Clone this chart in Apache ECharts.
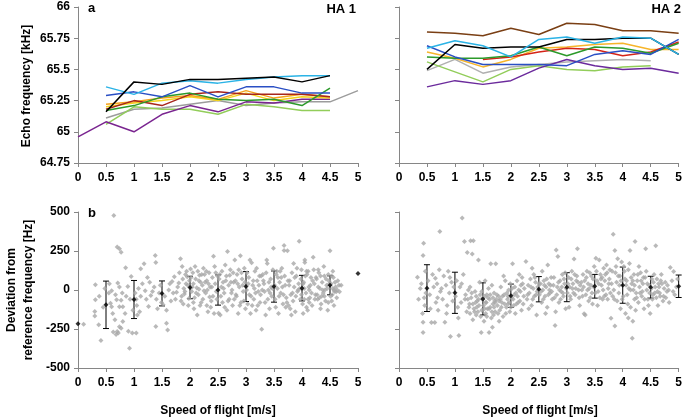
<!DOCTYPE html>
<html>
<head>
<meta charset="utf-8">
<script src="https://cdn.jsdelivr.net/npm/echarts@6/dist/echarts.min.js"></script>
<style>
  html, body { margin: 0; background: #fff; }
  #chart { width: 685px; height: 420px; }
</style>
</head>
<body>
<div id="chart"></div>
<script>
// speeds shared by all panels (m/s)
const speeds = [0, 0.5, 1, 1.5, 2, 2.5, 3, 3.5, 4, 4.5, 5]

// panel a, HA 1 – echo frequency per bat (kHz)
const ha1Black = [null, 65.16, 65.40, 65.38, 65.42, 65.42, 65.43, 65.44, 65.40, 65.45, null]
const ha1Cyan = [null, 65.36, 65.30, 65.39, 65.41, 65.39, 65.42, 65.44, 65.45, 65.45, null]
const ha1Blue = [null, 65.29, 65.32, 65.28, 65.37, 65.28, 65.36, 65.36, 65.31, 65.31, null]
const ha1DarkRed = [null, 65.18, 65.25, 65.21, 65.30, 65.32, 65.30, 65.30, 65.30, 65.28, null]
const ha1Green = [null, 65.17, 65.21, 65.28, 65.31, 65.26, 65.25, 65.26, 65.21, 65.35, null]
const ha1Orange = [null, 65.22, 65.24, 65.27, 65.29, 65.26, 65.33, 65.27, 65.30, 65.28, null]
const ha1Yellow = [null, 65.20, 65.23, 65.25, 65.28, 65.25, 65.31, 65.25, 65.28, 65.27, null]
const ha1Gray = [null, 65.11, 65.18, 65.19, 65.22, 65.25, 65.21, 65.23, 65.24, 65.24, 65.33]
const ha1Purple = [64.96, 65.08, 65.00, 65.14, 65.21, 65.16, 65.24, 65.23, 65.26, 65.26, null]
const ha1LightGreen = [null, 65.06, 65.20, 65.18, 65.18, 65.14, 65.22, 65.20, 65.17, 65.17, null]

// panel a, HA 2
const ha2Brown = [null, 65.80, 65.79, 65.77, 65.83, 65.78, 65.87, 65.86, 65.81, 65.81, 65.79]
const ha2Cyan = [null, 65.67, 65.73, 65.69, 65.60, 65.74, 65.76, 65.71, 65.76, 65.75, 65.62]
const ha2Black = [null, 65.50, 65.70, 65.67, 65.68, 65.68, 65.74, 65.74, 65.75, 65.75, 65.62]
const ha2Blue = [null, 65.69, 65.60, 65.54, 65.54, 65.54, 65.53, 65.62, 65.65, 65.62, 65.74]
const ha2Orange = [null, 65.64, 65.59, 65.52, 65.58, 65.67, 65.68, 65.70, 65.71, 65.66, 65.66]
const ha2Green = [null, 65.60, 65.59, 65.59, 65.61, 65.68, 65.61, 65.68, 65.67, 65.63, 65.71]
const ha2Red = [null, null, null, 65.58, 65.60, 65.64, 65.67, 65.66, 65.61, 65.64, 65.72]
const ha2Gray = [null, 65.49, 65.58, 65.47, 65.52, 65.54, 65.56, 65.57, 65.58, 65.57, null]
const ha2LightGreen = [null, 65.56, 65.48, 65.40, 65.50, 65.53, 65.50, 65.49, 65.52, 65.53, null]
const ha2Purple = [null, 65.36, 65.41, 65.38, 65.41, 65.51, 65.58, 65.53, 65.50, 65.51, 65.47]

// panel b – mean deviation and error (Hz)
const meanHA1 = [-216, -95, -61, -22, 16, 0, 22, 22, 12, 30, 106]
const errHA1 = [0, 152, 122, 80, 72, 97, 96, 100, 82, 61, 0]
const meanHA2 = [null, 12, -18, -57, -37, 5, 18, 24, 31, 18, 24]
const errHA2 = [0, 150, 132, 103, 75, 81, 93, 76, 116, 70, 72]

// panel b – single calls [speed, deviation]
const scatterHA1 = [
  [0.1,-219],[0.31,33],[0.31,-63],[0.3,-138],[0.3,-166],[0.37,-223],[0.41,-324],[0.38,-40],[0.45,-110],[0.48,10],
  [0.55,-20],[0.56,40],[0.58,-85],[0.6,-107],[0.62,-150],[0.63,-270],[0.66,-190],[0.68,-285],[0.7,-266],[0.72,-275],
  [0.74,-235],[0.77,-245],[0.8,-202],[0.71,45],[0.74,20],[0.67,-30],[0.69,-63],[0.77,-65],[0.8,-107],[0.84,-150],
  [0.86,-40],[0.74,-107],[0.89,22],[0.95,86],[0.64,478],[0.7,275],[0.74,264],[0.77,242],[0.85,142],[0.92,-373],
  [0.9,-265],[0.97,-275],[0.93,-60],[0.98,-130],[0.79,-20],[0.6,-5],
  [1.02,-20],[1.04,-60],[1.05,-100],[1.06,-160],[1.04,-276],[1.1,-140],[1.12,-40],[1.15,40],[1.18,168],[1.12,136],
  [1.2,-5],[1.22,-60],[1.24,80],[1.08,10],
  [1.26,-105],[1.28,50],[1.3,-35],[1.33,-10],[1.36,20],[1.38,221],[1.39,176],[1.39,-234],[1.4,-60],[1.42,-120],
  [1.45,-20],[1.47,30],[1.49,-80],
  [1.52,-95],[1.55,-40],[1.58,-213],[1.6,-256],[1.62,0],[1.64,40],[1.66,-70],[1.68,55],[1.7,-20],[1.72,85],[1.74,-60],[1.58,-130],
  [1.76,-15],[1.78,20],[1.8,45],[1.83,200],[1.85,-40],[1.87,70],[1.89,10],[1.9,-25],[1.92,100],[1.94,120],
  [1.96,30],[1.98,-55],[1.99,60],[1.88,-90],[1.95,85],
  [1.81,110],[1.84,-70],[1.86,150],[1.91,-10],[1.93,40],[1.97,-100],
  [2.01,135],[2.03,-10],[2.05,110],[2.06,40],[2.08,-50],[2.1,70],[2.12,15],[2.14,120],[2.15,-30],[2.17,95],
  [2.19,50],[2.2,-80],[2.22,30],[2.24,140],[2.02,80],[2.07,-120],[2.13,-160],[2.18,-100],[2.23,-60],[2.16,5],
  [2.04,20],[2.06,-80],[2.09,150],[2.11,-20],[2.16,60],[2.21,100],
  [2.26,100],[2.28,-20],[2.3,60],[2.32,-140],[2.34,110],[2.36,20],[2.38,-70],[2.4,80],[2.42,217],[2.43,-150],
  [2.45,40],[2.47,-10],[2.49,90],[2.3,-100],[2.44,150],[2.35,-45],
  [2.25,-5],[2.27,50],[2.29,120],[2.31,0],[2.33,40],[2.37,-110],[2.39,20],[2.41,-40],[2.46,110],[2.48,-60],
  [2.51,-149],[2.54,-160],[2.52,70],[2.55,-40],[2.57,120],[2.6,10],[2.62,-110],[2.64,60],[2.66,-130],[2.67,247],
  [2.69,30],[2.7,-60],[2.72,130],[2.74,-20],[2.58,-80],[2.63,160],[2.71,95],[2.56,20],
  [2.53,100],[2.59,50],[2.61,-20],[2.65,90],[2.68,-70],[2.73,50],
  [2.76,-100],[2.78,50],[2.8,193],[2.82,-30],[2.84,100],[2.86,-150],[2.88,20],[2.9,219],[2.91,-80],[2.93,70],
  [2.95,-10],[2.97,140],[2.99,-120],[2.85,40],[2.92,110],[2.79,-60],
  [2.75,0],[2.77,110],[2.81,60],[2.83,-40],[2.87,130],[2.89,-100],[2.94,30],[2.96,-70],[2.98,50],
  [3.01,0],[3.03,-90],[3.05,80],[3.07,193],[3.09,-40],[3.1,175],[3.12,30],[3.14,-60],[3.16,120],[3.18,-130],
  [3.2,60],[3.22,-10],[3.24,90],[3.08,-150],[3.15,10],[3.21,-100],
  [3.02,110],[3.04,40],[3.06,-30],[3.11,-100],[3.13,60],[3.17,-20],[3.19,140],[3.23,30],[3.25,-80],
  [3.26,-30],[3.28,-251],[3.3,100],[3.32,40],[3.34,-80],[3.37,193],[3.38,170],[3.4,0],[3.42,-120],[3.44,70],
  [3.46,-40],[3.48,130],[3.49,268],[3.35,-160],[3.45,20],[3.31,60],
  [3.27,90],[3.29,0],[3.33,-10],[3.36,110],[3.39,-60],[3.41,50],[3.43,-20],[3.47,10],
  [3.52,-60],[3.54,100],[3.56,10],[3.58,-150],[3.6,50],[3.62,-20],[3.64,140],[3.66,-90],[3.68,285],[3.68,253],
  [3.7,30],[3.72,-50],[3.74,251],[3.55,120],[3.63,80],[3.71,-110],
  [3.51,30],[3.53,-110],[3.57,80],[3.59,-40],[3.61,120],[3.65,20],[3.67,-30],[3.69,90],[3.73,-80],[3.75,60],
  [3.76,-100],[3.78,60],[3.8,-30],[3.82,110],[3.84,-70],[3.86,20],[3.88,-140],[3.9,90],[3.92,-10],[3.94,40],
  [3.95,313],[3.97,-60],[3.99,130],[3.85,170],[3.81,-160],[3.93,0],[3.98,70],
  [3.77,30],[3.79,-120],[3.83,-20],[3.87,80],[3.89,-40],[3.91,140],[3.96,10],[3.99,-30],
  [4.01,-90],[4.03,50],[4.05,193],[4.05,176],[4.07,-20],[4.09,100],[4.1,-130],[4.12,20],[4.14,-50],[4.16,80],
  [4.18,-100],[4.2,210],[4.22,40],[4.24,-30],[4.02,-150],[4.08,120],[4.13,0],[4.19,60],[4.04,10],[4.11,-60],
  [4.02,40],[4.04,-60],[4.06,90],[4.08,-110],[4.11,120],[4.13,-80],[4.15,30],[4.17,-20],[4.21,130],[4.23,-60],[4.25,80],
  [4.26,70],[4.28,-60],[4.3,110],[4.32,10],[4.34,-90],[4.36,50],[4.38,-20],[4.4,90],[4.42,-70],[4.44,30],
  [4.46,-130],[4.48,60],[4.5,251],[4.29,130],[4.35,-40],[4.41,0],[4.47,100],[4.33,-120],[4.39,150],
  [4.27,-30],[4.29,20],[4.31,-50],[4.33,90],[4.37,0],[4.4,-40],[4.43,70],[4.45,10],[4.47,-80],[4.49,40],
  [4.52,40],[4.54,-30],[4.56,80],[4.58,-10],[4.6,20],[4.61,-12],[4.64,60],[4.67,-12],[4.7,30],[4.55,120],
  [4.53,-70],[4.57,0],[4.62,-50],
  [4.51,-40],[4.53,90],[4.55,10],[4.57,-100],[4.59,50],[4.63,0],[4.66,30]
]

const scatterHA2 = [
  [0.33,82],[0.4,40],[0.43,221],[0.44,300],[0.43,-206],[0.43,-272],[0.45,-50],[0.47,120],[0.48,-20],[0.46,-100],
  [0.38,10],[0.42,-150],[0.35,-60],
  [0.52,60],[0.55,-30],[0.58,-208],[0.6,100],[0.62,20],[0.64,-208],[0.66,-80],[0.68,40],[0.7,-130],[0.72,130],
  [0.73,375],[0.74,-10],[0.56,-120],[0.65,75],[0.69,-50],
  [0.76,10],[0.78,-60],[0.8,90],[0.82,-206],[0.84,30],[0.86,-100],[0.88,120],[0.9,-20],[0.92,-298],[0.94,50],
  [0.96,-70],[0.98,20],[0.85,-150],[0.91,80],
  [1.01,-40],[1.03,60],[1.05,-110],[1.07,-292],[1.09,20],[1.11,-80],[1.13,461],[1.15,100],[1.17,311],[1.19,-30],
  [1.21,-140],[1.22,240],[1.24,0],[1.06,-180],[1.12,40],[1.18,-60],
  [1.23,-60],[1.25,-110],[1.27,-150],[1.3,-20],[1.32,-90],[1.35,-140],[1.38,-40],[1.39,-110],[1.42,-60],
  [1.26,-90],[1.28,315],[1.29,-50],[1.31,230],[1.33,315],[1.34,-120],[1.36,-10],[1.38,-160],[1.4,-70],[1.42,193],
  [1.43,-100],[1.45,-30],[1.47,-272],[1.48,-130],[1.27,20],[1.32,-190],[1.37,-80],[1.44,50],[1.49,-60],[1.41,-140],
  [1.46,-170],[1.48,-10],[1.5,-50],
  [1.51,-100],[1.53,-40],[1.55,-150],[1.56,-80],[1.58,-120],[1.6,10],[1.61,-272],[1.62,-60],[1.64,168],[1.65,-180],
  [1.67,-238],[1.68,-90],[1.7,-20],[1.72,-140],[1.73,168],[1.74,-60],[1.52,-200],[1.57,-30],[1.63,-110],[1.69,-160],
  [1.54,60],[1.66,30],[1.71,-70],
  [1.53,-120],[1.55,-80],[1.57,-170],[1.59,-50],[1.61,-120],[1.63,-30],[1.66,-140],[1.68,-50],[1.7,-110],[1.72,-80],
  [1.76,-100],[1.78,-40],[1.8,-130],[1.82,20],[1.84,-80],[1.86,-170],[1.88,-30],[1.9,60],[1.92,-110],[1.94,-60],
  [1.96,0],[1.98,-140],[1.79,-200],[1.87,90],[1.93,-20],[1.99,40],[1.81,-60],[1.95,-90],
  [1.75,-30],[1.77,-150],[1.79,-70],[1.83,-110],[1.85,-40],[1.89,-90],[1.91,-150],[1.95,-40],[1.97,-80],
  [2.01,-50],[2.03,168],[2.05,-100],[2.07,20],[2.09,-20],[2.11,60],[2.13,-80],[2.15,100],[2.17,-10],[2.19,-130],
  [2.21,40],[2.23,-40],[2.02,10],[2.08,-150],[2.14,0],[2.2,80],
  [2.0,-110],[2.04,-60],[2.06,-30],[2.1,-90],[2.12,-40],[2.16,-70],[2.18,30],[2.22,-90],[2.24,10],
  [2.27,183],[2.29,-60],[2.31,30],[2.33,-20],[2.35,70],[2.37,-100],[2.38,140],[2.4,10],[2.42,-40],[2.44,50],
  [2.46,-160],[2.48,20],[2.32,-120],[2.41,100],[2.47,-10],
  [2.3,-30],[2.36,20],[2.39,-60],[2.43,80],[2.45,-30],[2.5,40],
  [2.51,-30],[2.53,40],[2.55,-80],[2.57,0],[2.59,60],[2.61,-40],[2.63,20],[2.65,-110],[2.66,161],[2.68,40],
  [2.7,-20],[2.72,80],[2.74,-60],[2.56,120],[2.62,-150],[2.69,0],
  [2.54,-10],[2.58,-60],[2.6,30],[2.64,70],[2.67,-30],[2.71,30],[2.73,-10],
  [2.76,30],[2.78,-50],[2.79,-228],[2.81,257],[2.83,20],[2.84,215],[2.86,-80],[2.88,60],[2.9,-10],[2.92,100],
  [2.94,-40],[2.96,40],[2.98,-120],[2.8,-140],[2.87,0],[2.95,70],
  [2.77,80],[2.82,-30],[2.85,50],[2.89,-60],[2.91,20],[2.93,-20],[2.97,110],[2.99,10],
  [3.01,-20],[3.03,80],[3.05,20],[3.07,-60],[3.09,120],[3.11,40],[3.13,198],[3.15,-30],[3.17,60],[3.19,264],
  [3.21,0],[3.23,-100],[3.04,-110],[3.1,10],[3.18,90],
  [3.02,40],[3.06,-40],[3.08,70],[3.12,-20],[3.14,100],[3.16,10],[3.2,50],[3.22,-50],[3.24,30],
  [3.26,50],[3.28,-40],[3.3,20],[3.31,-153],[3.33,-160],[3.35,80],[3.37,0],[3.39,-70],[3.41,110],[3.43,30],
  [3.45,-20],[3.47,70],[3.49,150],[3.29,100],[3.38,40],[3.46,-90],
  [3.27,0],[3.32,60],[3.34,-30],[3.36,120],[3.4,10],[3.42,-50],[3.44,90],[3.48,20],
  [3.52,204],[3.54,60],[3.56,-10],[3.58,193],[3.6,100],[3.62,30],[3.64,-60],[3.66,140],[3.68,60],[3.7,-30],
  [3.72,110],[3.74,10],[3.55,-100],[3.63,80],[3.71,160],[3.57,40],[3.67,-40],
  [3.51,-20],[3.53,120],[3.59,-50],[3.61,70],[3.65,0],[3.69,100],[3.73,-60],[3.75,40],
  [3.76,70],[3.78,-20],[3.79,-181],[3.81,120],[3.83,358],[3.84,0],[3.86,253],[3.86,-230],[3.88,150],[3.9,-70],
  [3.92,90],[3.94,30],[3.96,-120],[3.98,180],[3.8,40],[3.85,-60],[3.91,200],[3.97,60],[3.87,110],[3.93,-20],
  [3.77,130],[3.82,-40],[3.89,50],[3.95,90],[3.99,-60],
  [4.01,-40],[4.03,120],[4.05,-150],[4.07,60],[4.09,-90],[4.11,10],[4.13,253],[4.14,-110],[4.16,40],[4.17,-309],
  [4.18,-200],[4.2,100],[4.22,311],[4.24,-20],[4.02,150],[4.06,30],[4.1,-180],[4.15,80],[4.21,-60],[4.12,170],
  [4.19,0],[4.23,-130],
  [4.04,70],[4.08,-30],[4.1,130],[4.14,0],[4.18,60],[4.21,30],[4.25,-50],
  [4.26,60],[4.28,-80],[4.3,20],[4.32,110],[4.34,-40],[4.36,40],[4.38,-120],[4.4,80],[4.41,264],[4.43,0],
  [4.45,-60],[4.47,30],[4.49,-150],[4.29,150],[4.35,-10],[4.42,120],[4.46,-100],[4.33,60],
  [4.27,100],[4.31,-20],[4.37,80],[4.39,-60],[4.44,40],[4.48,-20],
  [4.51,10],[4.53,-60],[4.55,50],[4.57,-20],[4.59,283],[4.61,70],[4.63,-100],[4.65,20],[4.67,-40],[4.7,40],
  [4.72,-70],[4.74,10],[4.56,100],[4.62,-10],[4.68,60],
  [4.52,70],[4.54,-30],[4.58,20],[4.6,-50],[4.64,40],[4.66,-20],[4.69,100],[4.73,-40],
  [4.77,-50],[4.8,30],[4.83,-80],[4.85,144],[4.88,60],[4.91,119],[4.93,-30],[4.96,20],[4.98,70],[4.82,0],[4.9,-10],
  [4.76,50],[4.79,-10]
]

const axisGray = '#868686'
const labelFont = { color: '#000', fontFamily: 'Liberation Sans', fontWeight: 'bold', fontSize: 12 }

const pair = arr => speeds.map((s, i) => [s, arr[i]]).filter(d => d[1] != null)

function lineSeries(values, color, idx) {
  return {
    type: 'line', xAxisIndex: idx, yAxisIndex: idx, data: pair(values),
    showSymbol: false, symbol: 'none', silent: true,
    lineStyle: { color, width: 1.5 }
  }
}

function errRender(params, api) {
  const x = api.value(0), m = api.value(1), e = api.value(2)
  if (!e) return null
  const top = api.coord([x, m + e])
  const bot = api.coord([x, m - e])
  const w = 3
  const st = { stroke: '#000', lineWidth: 1 }
  return {
    type: 'group',
    children: [
      { type: 'line', shape: { x1: top[0], y1: top[1], x2: bot[0], y2: bot[1] }, style: st },
      { type: 'line', shape: { x1: top[0] - w, y1: top[1], x2: top[0] + w, y2: top[1] }, style: st },
      { type: 'line', shape: { x1: bot[0] - w, y1: bot[1], x2: bot[0] + w, y2: bot[1] }, style: st }
    ]
  }
}

const grids = [
  { left: 78, top: 7, width: 280, height: 156 },
  { left: 399, top: 7, width: 281, height: 156 },
  { left: 78, top: 212, width: 280, height: 156 },
  { left: 399, top: 212, width: 281, height: 156 }
]

const xAxes = grids.map((g, i) => ({
  gridIndex: i, type: 'value', min: 0, max: 5, interval: 0.5,
  axisLine: { onZero: false, lineStyle: { color: axisGray } },
  axisTick: { length: 4, lineStyle: { color: axisGray } },
  axisLabel: { ...labelFont, margin: 9 },
  splitLine: { show: false }
}))

const yAxes = grids.map((g, i) => {
  const top = i < 2
  return {
    gridIndex: i, type: 'value',
    min: top ? 64.75 : -500, max: top ? 66 : 500, interval: top ? 0.25 : 250,
    axisLine: { show: true, onZero: false, lineStyle: { color: axisGray } },
    axisTick: { show: true, length: 4, lineStyle: { color: axisGray } },
    axisLabel: { ...labelFont, show: i % 2 === 0, margin: 8 },
    splitLine: { show: false }
  }
})

const series = [
  lineSeries(ha1Gray, '#9c9c9c', 0),
  lineSeries(ha1LightGreen, '#92cd5a', 0),
  lineSeries(ha1Purple, '#7a2590', 0),
  lineSeries(ha1Yellow, '#f4d21c', 0),
  lineSeries(ha1Orange, '#f4a21e', 0),
  lineSeries(ha1DarkRed, '#a7261c', 0),
  lineSeries(ha1Green, '#2c9a2a', 0),
  lineSeries(ha1Blue, '#2a4fc4', 0),
  lineSeries(ha1Cyan, '#2bb3e6', 0),
  lineSeries(ha1Black, '#000000', 0),

  lineSeries(ha2Gray, '#b0b0b0', 1),
  lineSeries(ha2LightGreen, '#92cd5a', 1),
  lineSeries(ha2Purple, '#6b2a9c', 1),
  lineSeries(ha2Orange, '#f7b52a', 1),
  lineSeries(ha2Red, '#d42418', 1),
  lineSeries(ha2Green, '#2c9a2a', 1),
  lineSeries(ha2Blue, '#2a4fc4', 1),
  lineSeries(ha2Black, '#000000', 1),
  lineSeries(ha2Cyan, '#2bb3e6', 1),
  lineSeries(ha2Brown, '#7a3f14', 1),

  {
    type: 'scatter', xAxisIndex: 2, yAxisIndex: 2, data: scatterHA1, silent: true,
    symbol: 'diamond', symbolSize: 5, itemStyle: { color: '#a8a8a8' }
  },
  {
    type: 'scatter', xAxisIndex: 3, yAxisIndex: 3, data: scatterHA2, silent: true,
    symbol: 'diamond', symbolSize: 5, itemStyle: { color: '#a8a8a8' }
  },
  {
    type: 'custom', xAxisIndex: 2, yAxisIndex: 2, renderItem: errRender, silent: true, clip: false,
    data: speeds.map((s, i) => [s, meanHA1[i], errHA1[i]])
  },
  {
    type: 'custom', xAxisIndex: 3, yAxisIndex: 3, renderItem: errRender, silent: true, clip: false,
    data: speeds.map((s, i) => [s, meanHA2[i], errHA2[i]]).filter(d => d[1] != null)
  },
  {
    type: 'scatter', xAxisIndex: 2, yAxisIndex: 2, data: pair(meanHA1), silent: true,
    symbol: 'diamond', symbolSize: 5, itemStyle: { color: '#000' }
  },
  {
    type: 'scatter', xAxisIndex: 3, yAxisIndex: 3, data: pair(meanHA2), silent: true,
    symbol: 'diamond', symbolSize: 5, itemStyle: { color: '#000' }
  }
]

const txt = (text, x, y, extra) => ({
  type: 'text', x, y, silent: true,
  style: { text, fill: '#000', font: 'bold 12px "Liberation Sans"', ...extra }
})

const graphic = [
  txt('a', 88, 2, { font: 'bold 13px "Liberation Sans"' }),
  txt('b', 88, 207, { font: 'bold 13px "Liberation Sans"' }),
  txt('HA 1', 356, 3, { align: 'right', font: 'bold 13px "Liberation Sans"' }),
  txt('HA 2', 681, 3, { align: 'right', font: 'bold 13px "Liberation Sans"' }),
  { ...txt('Echo frequency [kHz]', 27, 86, { align: 'center', verticalAlign: 'middle' }), rotation: Math.PI / 2 },
  { ...txt('Deviation from', 12, 290, { align: 'center', verticalAlign: 'middle' }), rotation: Math.PI / 2 },
  { ...txt('reference frequency [Hz]', 29, 290, { align: 'center', verticalAlign: 'middle' }), rotation: Math.PI / 2 },
  txt('Speed of flight [m/s]', 218, 405, { align: 'center' }),
  txt('Speed of flight [m/s]', 540, 405, { align: 'center' })
]

const chart = echarts.init(document.getElementById('chart'))
chart.setOption({
  animation: false,
  grid: grids,
  xAxis: xAxes,
  yAxis: yAxes,
  series,
  graphic
})
</script>
</body>
</html>
